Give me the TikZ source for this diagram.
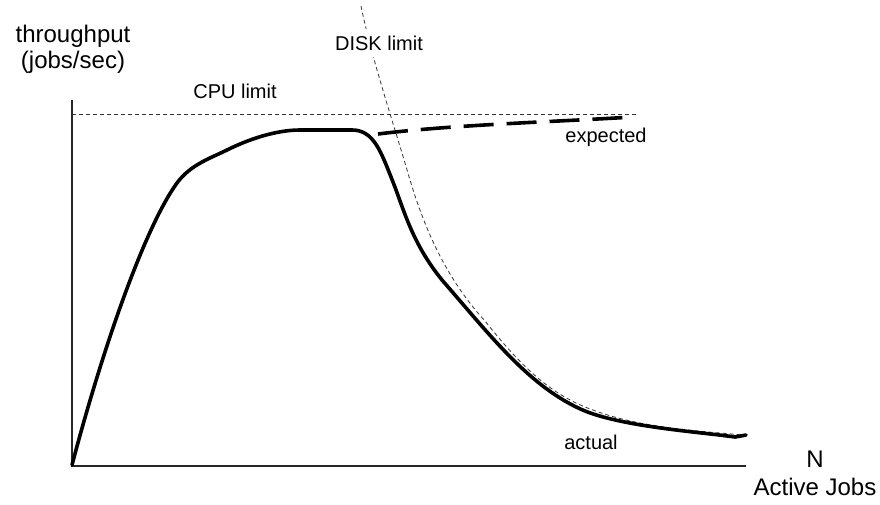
\documentclass[tikz,border=0pt]{standalone}
\usepackage{fontspec}
\setmainfont{Liberation Sans}
\begin{document}
\begin{tikzpicture}[x=1pt,y=-1pt,
  axisline/.style={line width=1.1pt,black!85},
  limitline/.style={line width=0.8pt,black!80,dash pattern=on 4pt off 3pt},
  actualcurve/.style={line width=3.6pt,black,line cap=round,line join=round},
  expectedcurve/.style={line width=3.6pt,black,dash pattern=on 30pt off 13pt},
  biglabel/.style={font=\fontsize{24}{28}\selectfont,anchor=base,inner sep=0pt},
  smalllabel/.style={font=\fontsize{20}{24}\selectfont,anchor=base,inner sep=0pt}]
  \useasboundingbox (0,0) rectangle (880,504);

  % axes
  \coordinate (ytop) at (72,100);
  \coordinate (origin) at (72,466);
  \coordinate (xend) at (746,466);
  \draw[axisline] (ytop) -- (origin) -- (xend);

  % CPU limit (horizontal bound)
  \coordinate (cpuA) at (72,114.5);
  \coordinate (cpuB) at (637,114.5);
  \draw[limitline] (cpuA) -- (cpuB);

  % DISK limit (falling bound)
  \coordinate (diskA) at (361,6);
  \coordinate (diskB) at (410,180);
  \coordinate (diskC) at (485,321);
  \coordinate (diskD) at (593,410);
  \coordinate (diskE) at (743,435);
  \draw[limitline] (diskA) .. controls (372,60) and (395,128) .. (diskB)
    .. controls (428,240) and (452,285) .. (diskC)
    .. controls (520,365) and (550,395) .. (diskD)
    .. controls (640,428) and (700,431) .. (diskE);

  % actual throughput
  \coordinate (a0) at (72,465);
  \coordinate (a1) at (177,183);
  \coordinate (a2) at (227,150);
  \coordinate (a3) at (300,130);
  \coordinate (a4) at (352,130);
  \coordinate (a5) at (393,182);
  \coordinate (a6) at (442,280);
  \coordinate (a7) at (585,411);
  \coordinate (a8) at (735,437);
  \coordinate (a9) at (746,435);
  \draw[actualcurve] (a0) .. controls (103,347) and (145,227) .. (a1)
    .. controls (190.5,164.5) and (211,158) .. (a2)
    .. controls (247,140) and (275,130) .. (a3)
    -- (a4)
    .. controls (374,130) and (381,152) .. (a5)
    .. controls (404,210) and (412,243) .. (a6)
    .. controls (490,335) and (530,388) .. (a7)
    .. controls (625,427) and (700,432) .. (a8)
    -- (a9);

  % expected throughput
  \coordinate (e1) at (378,134);
  \coordinate (e2) at (633,117);
  \draw[expectedcurve] (e1) .. controls (450,125) and (550,122) .. (e2);

  % labels
  \node[biglabel] (ylab1) at (73,42) {throughput};
  \node[biglabel] (ylab2) at (73,68) {(jobs/sec)};
  \node[smalllabel] (cpu) at (235,98) {CPU limit};
  \node[smalllabel,fill=white,inner xsep=1pt,inner ysep=7pt] (disk) at (379,50) {DISK limit};
  \node[smalllabel] (expected) at (606,142) {expected};
  \node[smalllabel] (actual) at (591,449) {actual};
  \node[biglabel] (xlab1) at (815,467) {N};
  \node[biglabel] (xlab2) at (815,495) {Active Jobs};
\end{tikzpicture}
\end{document}
